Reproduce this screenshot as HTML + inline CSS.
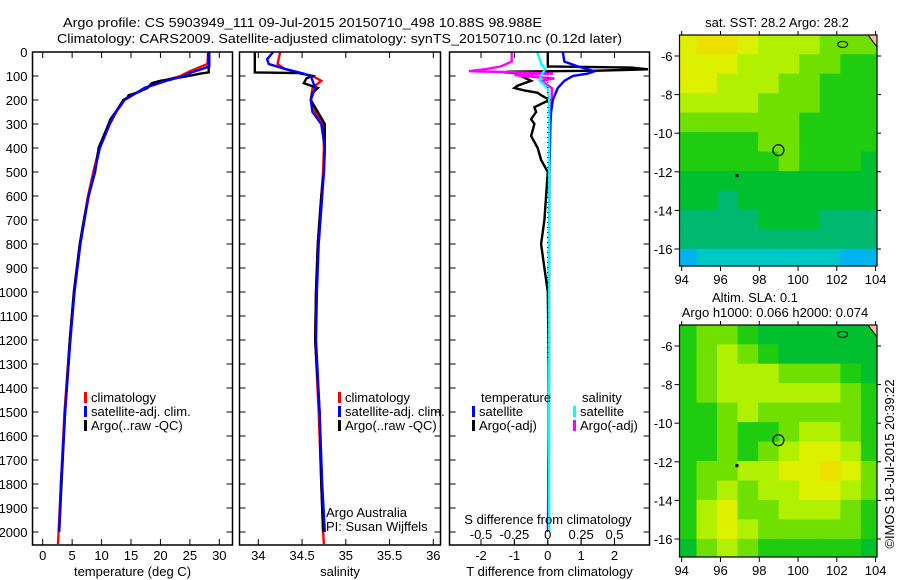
<!DOCTYPE html>
<html><head><meta charset="utf-8"><style>
body{margin:0;background:#fff;}
svg{display:block;font-family:"Liberation Sans",sans-serif;}
text{font-size:13px;fill:#000;}
</style></head><body>
<svg id="c" width="900" height="580"></svg>
<script>
// ---------- data ----------
const depthTicks=[0,100,200,300,400,500,600,700,800,900,1000,1100,1200,1300,1400,1500,1600,1700,1800,1900,2000];
const tempTicks=[0,5,10,15,20,25,30];
const salTicks=[34,34.5,35,35.5,36];
const tDiffTicks=[-2,-1,0,1,2];
const sDiffTicks=[-0.5,-0.25,0,0.25,0.5];
const sDiffTickLabels=["-0.5","-0.25","0","0.25","0.5"];

const tClimDepth=[0,50,60,80,100,120,150,200,250,300,400,500,600,700,800,1000,1200,1500,1800,2000,2050];
const tClimVal=[28.1,28.0,27.0,25.0,23.4,20.5,17.3,13.9,12.5,11.4,9.6,8.6,7.7,7.0,6.3,5.3,4.6,3.7,3.1,2.7,2.6];
const tSatDepth=[0,60,70,85,100,120,150,200,250,300,400,500,600,700,800,1000,1200,1500,1800,2000];
const tSatVal=[28.3,28.3,27.2,25.3,24.0,21.0,17.3,13.9,12.4,11.4,9.7,8.8,7.8,7.1,6.4,5.4,4.7,3.8,3.1,2.8];
const tArgoDepth=[0,85,90,100,120,130,150,170,180,190,200,250,280,300,400,500,600,700,800,1000,1200,1500,1800,2000];
const tArgoVal=[28.2,28.2,26.8,24.8,20.0,18.5,17.8,16.0,14.6,14.4,13.7,12.4,11.5,11.2,9.5,8.9,7.8,7.0,6.3,5.3,4.6,3.8,3.2,2.8];

const sClimDepth=[0,50,70,90,100,120,150,200,250,300,400,500,600,800,1000,1200,1500,1800,2000,2050];
const sClimVal=[34.25,34.22,34.30,34.50,34.62,34.72,34.62,34.60,34.65,34.74,34.75,34.74,34.72,34.68,34.66,34.65,34.69,34.72,34.74,34.75];
const sSatDepth=[0,30,50,70,90,100,150,200,250,300,400,500,600,800,1000,1200,1500,1800,2000];
const sSatVal=[34.17,34.10,34.12,34.30,34.52,34.60,34.65,34.60,34.62,34.72,34.76,34.75,34.73,34.69,34.67,34.66,34.70,34.73,34.76];
const sArgoDepth=[0,85,88,100,110,130,150,170,200,250,300,400,500,600,800,1000,1200,1500,1800,2000];
const sArgoVal=[33.96,33.96,34.46,34.62,34.55,34.52,34.68,34.62,34.60,34.68,34.76,34.76,34.75,34.72,34.68,34.66,34.65,34.70,34.72,34.74];

const dTSatDepth=[0,40,60,80,90,100,120,150,200,250,300,500,1000,1500,2000];
const dTSatVal=[0.45,0.5,0.9,1.4,1.2,0.75,0.5,0.3,0.15,0.1,0.08,0.05,0.03,0.03,0.02];
const dTArgoDepth=[0,60,65,72,78,82,85,90,100,120,140,150,160,170,180,200,230,250,280,300,350,400,450,500,600,700,800,900,1000,1200,1500,1800,2000];
const dTArgoVal=[0,0,2.5,3.0,1.5,-1.2,-1.3,-0.4,-0.8,-0.5,-0.9,-1.0,-0.7,-0.3,-0.2,0.05,-0.4,-0.35,-0.5,-0.4,-0.5,-0.3,-0.2,0.0,-0.05,-0.1,-0.2,-0.1,0.0,0.02,0.03,0.02,0.02];
const dSSatDepth=[0,30,50,70,100,120,150,200,300,500,1000,1500,2000];
const dSSatVal=[-0.08,-0.06,-0.05,-0.02,-0.05,-0.06,0.0,0.01,0.01,0.01,0.01,0.01,0.01];
const dSArgoDepth=[0,40,60,70,80,85,90,95,100,110,120,150,200,300,500,1000,1500,2000];
const dSArgoVal=[-0.27,-0.27,-0.35,-0.45,-0.59,-0.2,0.04,-0.25,-0.19,0.05,-0.05,0.03,0.03,0.01,0.01,0.01,0.01,0.0];

const mapLonTicks=[94,96,98,100,102,104];
const mapLatTicks=[-6,-8,-10,-12,-14,-16];
const palette=["#1a8cff","#00b4f0","#00c8c8","#00b870","#00c030","#20cc10","#70e000","#b0f000","#dcf000","#ece000"];
const sstGrid=[
[8,9,9,8,7,7,7,6,6,6],
[8,8,8,7,7,7,6,6,5,5],
[8,8,7,7,7,6,6,5,5,5],
[7,7,7,7,6,6,6,5,5,5],
[6,6,6,6,6,6,5,5,5,5],
[5,5,5,5,6,6,5,5,5,5],
[5,5,5,5,5,6,5,5,5,4],
[4,4,4,4,4,4,4,4,4,4],
[4,4,3,4,4,4,4,4,4,4],
[3,3,3,3,4,4,4,3,3,3],
[3,3,3,3,3,3,3,3,3,3],
[1,2,2,2,2,2,2,2,1,1]];
const slaGrid=[
[5,6,6,5,4,4,4,4,4,4],
[5,6,7,6,5,4,4,4,4,4],
[5,6,7,7,7,6,6,6,5,4],
[5,6,7,7,7,7,7,7,6,5],
[5,5,6,7,6,6,6,6,6,5],
[5,5,6,5,5,6,7,7,6,5],
[5,5,6,5,6,7,8,8,7,5],
[5,6,6,7,7,8,8,9,8,6],
[5,6,7,6,7,7,8,8,7,6],
[5,7,8,6,6,7,7,7,6,5],
[5,7,8,7,6,6,6,6,6,5],
[4,6,7,6,5,5,5,5,5,4]];
const argoLon=98.988, argoLat=-10.88;

// ---------- helpers ----------
const NS="http://www.w3.org/2000/svg";
const svg=document.getElementById('c');
function mk(tag,attrs,parent,txt){const e=document.createElementNS(NS,tag);for(const k in attrs)e.setAttribute(k,attrs[k]);if(txt!==undefined)e.textContent=txt;(parent||svg).appendChild(e);return e;}
function lin(d0,d1,r0,r1){return v=>r0+(v-d0)*(r1-r0)/(d1-d0);}

const TOP=52,BOT=545;
const yD=lin(0,2000,52,532);
const xT=lin(0,30,42.7,219.3);
const xS=lin(34,36,258.3,433.3);
const xdT=lin(-2,2,481,614.5);
const xdS=lin(-0.5,0.5,481,614.5);

// titles
let t=mk('text',{x:63,y:27,textLength:479,lengthAdjust:'spacingAndGlyphs','font-size':14},svg,"Argo profile: CS 5903949_111 09-Jul-2015 20150710_498 10.88S 98.988E");

t=mk('text',{x:57,y:43,textLength:565,lengthAdjust:'spacingAndGlyphs','font-size':14},svg,"Climatology: CARS2009. Satellite-adjusted climatology: synTS_20150710.nc (0.12d later)");


function panel(name,x0,x1,xs,xticks,xlabels,xtitle,series,yLabels){
  const g=mk('g',{});
  
  
  const cp=name+'-clip';
  const cl=mk('clipPath',{id:cp},g);mk('rect',{x:x0,y:TOP,width:x1-x0,height:BOT-TOP},cl);
  const sg=mk('g',{'clip-path':'url(#'+cp+')'},g);
  series.forEach(s=>{
    const pts=s.d.map((d,i)=>s.x(s.v[i]).toFixed(1)+','+yD(d).toFixed(1)).join(' ');
    const p=mk('polyline',{points:pts,fill:'none',stroke:s.c,'stroke-width':2.4,'stroke-linejoin':'miter'},sg);
    
    
  });
  mk('rect',{x:x0,y:TOP,width:x1-x0,height:BOT-TOP,fill:'none',stroke:'#000','stroke-width':1.5},g);
  depthTicks.forEach(d=>{const y=yD(d);
    mk('line',{x1:x0,x2:x0+6,y1:y,y2:y,stroke:'#000'},g);
    mk('line',{x1:x1-6,x2:x1,y1:y,y2:y,stroke:'#000'},g);
    if(yLabels){const l=mk('text',{x:x0-5,y:y+5,'text-anchor':'end'},g,String(d));}
  });
  xticks.forEach((v,i)=>{const x=xs(v);
    mk('line',{x1:x,x2:x,y1:BOT,y2:BOT-6,stroke:'#000'},g);
    mk('line',{x1:x,x2:x,y1:TOP,y2:TOP+6,stroke:'#000'},g);
    const l=mk('text',{x:x,y:560,'text-anchor':'middle'},g,xlabels[i]);
    
  });
  const tt=mk('text',{x:(x0+x1)/2,y:576,'text-anchor':'middle'},g,xtitle);
  
  return g;
}
function legend(g,x,y,color,label){
  const r=mk('rect',{x:x,y:y-10,width:3,height:11,fill:color},g);
  
  if(label){const l=mk('text',{x:x+7,y:y},g,label);}
}

const g1=panel('temperature-panel',32.5,232.5,xT,tempTicks,tempTicks.map(String),'temperature (deg C)',[
 {d:tClimDepth,v:tClimVal,x:xT,c:'#f00',n:'temp-climatology-line'},
 {d:tArgoDepth,v:tArgoVal,x:xT,c:'#000',n:'temp-argo-line'},
 {d:tSatDepth,v:tSatVal,x:xT,c:'#00f',n:'temp-satellite-line'}],true);
legend(g1,84,402,'#f00','climatology');legend(g1,84,416,'#00f','satellite-adj. clim.');legend(g1,84,430,'#000','Argo(..raw -QC)');

const g2=panel('salinity-panel',239.5,440.5,xS,salTicks,salTicks.map(String),'salinity',[
 {d:sClimDepth,v:sClimVal,x:xS,c:'#f00',n:'sal-climatology-line'},
 {d:sArgoDepth,v:sArgoVal,x:xS,c:'#000',n:'sal-argo-line'},
 {d:sSatDepth,v:sSatVal,x:xS,c:'#00f',n:'sal-satellite-line'}],false);
legend(g2,338,402,'#f00','climatology');legend(g2,338,416,'#00f','satellite-adj. clim.');legend(g2,338,430,'#000','Argo(..raw -QC)');
t=mk('text',{x:326,y:517},g2,'Argo Australia');
t=mk('text',{x:326,y:531},g2,'PI: Susan Wijffels');

const g3=panel('difference-panel',449.5,649.5,xdT,tDiffTicks,tDiffTicks.map(String),'T difference from climatology',[
 {d:dTArgoDepth,v:dTArgoVal,x:xdT,c:'#000',n:'tdiff-argo-line'},
 {d:dSArgoDepth,v:dSArgoVal,x:xdS,c:'#f0f',n:'sdiff-argo-line'},
 {d:dTSatDepth,v:dTSatVal,x:xdT,c:'#00f',n:'tdiff-satellite-line'},
 {d:dSSatDepth,v:dSSatVal,x:xdS,c:'#0ff',n:'sdiff-satellite-line'}],false);
mk('line',{x1:xdT(0),x2:xdT(0),y1:TOP,y2:360,stroke:'#000','stroke-dasharray':'1,4'},g3);
sDiffTicks.forEach((v,i)=>{const l=mk('text',{x:xdS(v),y:539,'text-anchor':'middle'},g3,sDiffTickLabels[i]);
 mk('line',{x1:xdS(v),x2:xdS(v),y1:BOT,y2:BOT-5,stroke:'#000'},g3);});
t=mk('text',{x:548,y:524,'text-anchor':'middle'},g3,'S difference from climatology');
t=mk('text',{x:481,y:402},g3,'temperature');
t=mk('text',{x:582,y:402},g3,'salinity');
legend(g3,472,416,'#00f','satellite');legend(g3,472,430,'#000','Argo(-adj)');
legend(g3,573,416,'#0ff','satellite');legend(g3,573,430,'#f0f','Argo(-adj)');

// ---------- maps ----------
function map(name,y0,y1,grid,titles){
  const X0=679.5,X1=877;
  const xL=lin(94,104,681.7,875.6);
  const latTop=-5, latBot=-17;
  const yL=lin(-6,-16,y0+21,y0+214);
  const g=mk('g',{});
  
  
  const cp=name+'-clip';
  const cl=mk('clipPath',{id:cp},g);mk('rect',{x:X0,y:y0,width:X1-X0,height:y1-y0},cl);
  const cg=mk('g',{'clip-path':'url(#'+cp+')'},g);
  const rows=grid.length, cols=grid[0].length;
  const latA=-4.9, latB=-17.0, lonA=93.7, lonB=104.3;
  for(let r=0;r<rows;r++)for(let c=0;c<cols;c++){
    const la0=latA+(latB-latA)*r/rows, la1=latA+(latB-latA)*(r+1)/rows;
    const lo0=lonA+(lonB-lonA)*c/cols, lo1=lonA+(lonB-lonA)*(c+1)/cols;
    const cell=mk('rect',{x:xL(lo0),y:yL(la0),width:xL(lo1)-xL(lo0)+0.5,height:yL(la1)-yL(la0)+0.5,fill:palette[grid[r][c]]},cg);
    
    
  }
  mk('polygon',{points:`${X1-9},${y0} ${X1},${y0} ${X1},${y0+12}`,fill:'#f8c0a0',stroke:'#000'},cg);
  mk('ellipse',{cx:xL(102.3),cy:yL(-5.4),rx:5,ry:3,fill:'none',stroke:'#000'},cg);
  const ring=mk('circle',{cx:xL(argoLon),cy:yL(argoLat),r:5.5,fill:'none',stroke:'#000','stroke-width':1.2},cg);
  
  mk('rect',{x:xL(96.85)-1.5,y:yL(-12.2)-1.5,width:3,height:3,fill:'#000'},cg);
  mk('rect',{x:X0,y:y0,width:X1-X0,height:y1-y0,fill:'none',stroke:'#000','stroke-width':1.2},g);
  mapLonTicks.forEach(v=>{const x=xL(v);
    mk('line',{x1:x,x2:x,y1:y1,y2:y1+5,stroke:'#000'},g);mk('line',{x1:x,x2:x,y1:y0,y2:y0-4,stroke:'#000'},g);
    const l=mk('text',{x:x,y:y1+18,'text-anchor':'middle'},g,String(v));});
  mapLatTicks.forEach(v=>{const y=yL(v);
    mk('line',{x1:X0,x2:X0-5,y1:y,y2:y,stroke:'#000'},g);mk('line',{x1:X1,x2:X1+4,y1:y,y2:y,stroke:'#000'},g);
    const l=mk('text',{x:X0-7,y:y+5,'text-anchor':'end'},g,String(v));});
  titles.forEach(tt=>{const l=mk('text',{x:tt[0],y:tt[1],'text-anchor':'middle'},g,tt[2]);});
}
map('sst-map',35,266,sstGrid,[[777,27,'sat. SST: 28.2  Argo: 28.2']]);
map('sla-map',325,557,slaGrid,[[755,302,'Altim. SLA: 0.1'],[775,317,'Argo h1000: 0.066 h2000: 0.074']]);
t=mk('text',{x:0,y:0,transform:'translate(894,464) rotate(-90)','text-anchor':'middle'},svg,'©IMOS 18-Jul-2015 20:39:22');

</script>
</body></html>
